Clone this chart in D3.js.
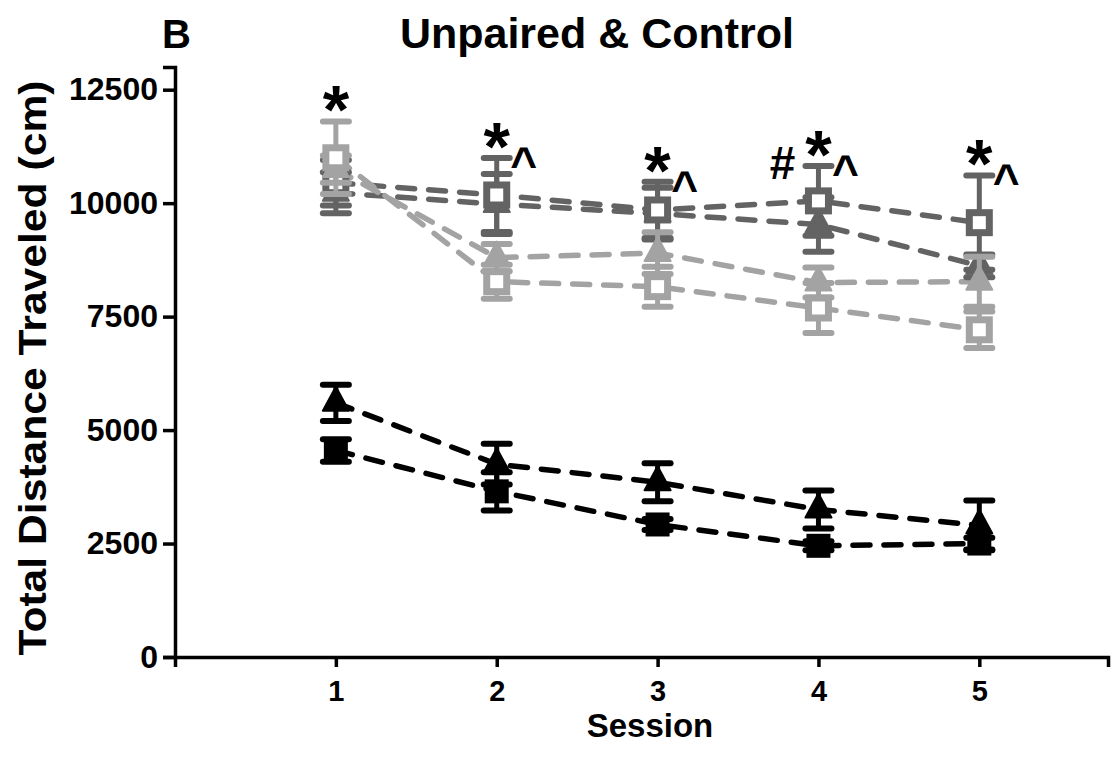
<!DOCTYPE html>
<html>
<head>
<meta charset="utf-8">
<script src="https://cdn.jsdelivr.net/npm/d3@7"></script>
<style>
  html, body { margin: 0; padding: 0; background: #fff; }
  svg { display: block; font-family: "Liberation Sans", Arial, sans-serif; }
</style>
</head>
<body>
<svg id="chart" width="1111" height="761"></svg>
<script>
// Sessions and tick values
const sessions = [1, 2, 3, 4, 5];
const yTicks = [0, 2500, 5000, 7500, 10000, 12500];

// Group means and SEM (cm)
const blackSquareMean = [4550, 3650, 2920, 2450, 2500];
const blackSquareSem  = [250, 420, 120, 100, 130];
const blackTriMean    = [5600, 4250, 3850, 3250, 2900];
const blackTriSem     = [400, 450, 420, 420, 550];
const darkSquareMean  = [10450, 10180, 9850, 10050, 9570];
const darkSquareSem   = [500, 815, 620, 770, 1040];
const darkTriMean     = [10230, 9980, 9770, 9530, 8620];
const darkTriSem      = [450, 660, 570, 600, 250];
const lightSquareMean = [11000, 8270, 8160, 7690, 7210];
const lightSquareSem  = [800, 375, 440, 550, 400];
const lightTriMean    = [10750, 8800, 8900, 8250, 8270];
const lightTriSem     = [300, 300, 460, 330, 550];

// Significance markers per session
const markLeft  = ["", "", "", "#", ""];
const markStar  = ["*", "*", "*", "*", "*"];
const markRight = ["", "^", "^", "^", "^"];

const DARK = "#636363";
const LIGHT = "#a3a3a3";

const series = [
  { mean: darkTriMean,     sem: darkTriSem,     color: DARK,  shape: "tri",    open: false },
  { mean: darkSquareMean,  sem: darkSquareSem,  color: DARK,  shape: "square", open: true },
  { mean: lightTriMean,    sem: lightTriSem,    color: LIGHT, shape: "tri",    open: false },
  { mean: lightSquareMean, sem: lightSquareSem, color: LIGHT, shape: "square", open: true },
  { mean: blackTriMean,    sem: blackTriSem,    color: "#000", shape: "tri",   open: false },
  { mean: blackSquareMean, sem: blackSquareSem, color: "#000", shape: "square", open: false }
];

const svg = d3.select("#chart");

const x = d3.scaleLinear().domain([0, 5.8]).range([175, 1108]);
const y = d3.scaleLinear().domain([0, 13000]).range([657, 67]);

// Axes
const xAxis = svg.append("g").attr("transform", `translate(0,${y(0)})`)
  .call(d3.axisBottom(x).tickValues(sessions).tickFormat(d3.format("d")).tickSize(10).tickPadding(13));
const yAxis = svg.append("g").attr("transform", `translate(${x(0)},0)`)
  .call(d3.axisLeft(y).tickValues(yTicks).tickFormat(d3.format("d")).tickSize(12).tickPadding(5));

[xAxis, yAxis].forEach(g => {
  g.attr("font-size", null).attr("font-family", null);
  g.select(".domain").attr("stroke", "#000").attr("stroke-width", 3.5);
  g.selectAll(".tick line").attr("stroke", "#000").attr("stroke-width", 3.5);
  g.selectAll(".tick text").attr("fill", "#000").attr("font-weight", "bold");
});
xAxis.selectAll(".tick text").attr("font-size", 29);
yAxis.selectAll(".tick text").attr("font-size", 32);

// Titles
svg.append("text").attr("x", 162).attr("y", 48)
  .attr("font-size", 40).attr("font-weight", "bold").text("B");
svg.append("text").attr("x", 597).attr("y", 48).attr("text-anchor", "middle")
  .attr("font-size", 43).attr("font-weight", "bold").text("Unpaired & Control");
svg.append("text").attr("x", 650).attr("y", 737).attr("text-anchor", "middle")
  .attr("font-size", 33).attr("font-weight", "bold").text("Session");
svg.append("text")
  .attr("transform", `translate(46,${368}) rotate(-90)`)
  .attr("text-anchor", "middle").attr("font-size", 39).attr("font-weight", "bold")
  .attr("textLength", 575).attr("lengthAdjust", "spacingAndGlyphs")
  .text("Total Distance Traveled (cm)");

// Dashed connecting lines
const line = d3.line().x((d, i) => x(sessions[i])).y(d => y(d));
series.forEach(s => {
  svg.append("path").datum(s.mean)
    .attr("d", line).attr("fill", "none")
    .attr("stroke", s.color).attr("stroke-width", 5.5)
    .attr("stroke-dasharray", "17,14").attr("stroke-linecap", "round");
});

// Error bars and markers
const capHalf = 13;
const triPath = (w, h) => `M0,${-h * 2 / 3}L${w / 2},${h / 3}L${-w / 2},${h / 3}Z`;

series.forEach(s => {
  const g = svg.append("g");
  s.mean.forEach((m, i) => {
    const cx = x(sessions[i]);
    const top = y(m + s.sem[i]), bot = y(m - s.sem[i]);
    g.append("line").attr("x1", cx).attr("x2", cx).attr("y1", top).attr("y2", bot)
      .attr("stroke", s.color).attr("stroke-width", 5);
    [top, bot].forEach(yy => {
      g.append("line").attr("x1", cx - capHalf).attr("x2", cx + capHalf)
        .attr("y1", yy).attr("y2", yy)
        .attr("stroke", s.color).attr("stroke-width", 6).attr("stroke-linecap", "round");
    });
    const cy = y(m);
    if (s.shape === "square") {
      if (s.open) {
        g.append("rect").attr("x", cx - 10).attr("y", cy - 10).attr("width", 20).attr("height", 20)
          .attr("fill", "#fff").attr("stroke", s.color).attr("stroke-width", 7);
      } else {
        g.append("rect").attr("x", cx - 12).attr("y", cy - 12).attr("width", 24).attr("height", 24)
          .attr("fill", s.color);
      }
    } else {
      g.append("path").attr("d", triPath(26, 24))
        .attr("transform", `translate(${cx},${cy})`)
        .attr("fill", s.color).attr("stroke", s.color).attr("stroke-width", 2)
        .attr("stroke-linejoin", "round");
    }
  });
});

// Significance symbols above the highest error bar of each session
sessions.forEach((sess, i) => {
  const topVal = d3.max(series, s => s.mean[i] + s.sem[i]);
  const cx = x(sess);
  const yTop = y(topVal);
  svg.append("text").attr("x", cx).attr("y", yTop + 12).attr("text-anchor", "middle")
    .attr("font-size", 68).attr("font-weight", "bold").text(markStar[i]);
  if (markRight[i]) {
    svg.append("text").attr("x", cx + 27).attr("y", yTop + 22).attr("text-anchor", "middle")
      .attr("font-size", 46).attr("font-weight", "bold").text(markRight[i]);
  }
  if (markLeft[i]) {
    svg.append("text").attr("x", cx - 36).attr("y", yTop + 13).attr("text-anchor", "middle")
      .attr("font-size", 46).attr("font-weight", "bold").text(markLeft[i]);
  }
});
</script>
</body>
</html>
